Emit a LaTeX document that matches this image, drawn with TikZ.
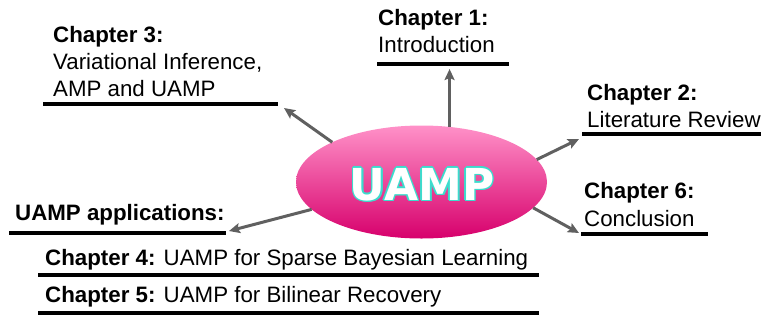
\documentclass[tikz,border=0pt]{standalone}
\usepackage{fontspec}
\setmainfont{Liberation Sans}
\newfontfamily\hubfont{DejaVu Sans}
\usetikzlibrary{shapes.geometric,arrows.meta}

\definecolor{linkgray}{RGB}{96,96,96}
\definecolor{glow}{RGB}{60,220,205}
\definecolor{hubtop}{RGB}{255,145,200}
\definecolor{hubmid}{RGB}{255,85,170}
\definecolor{hubbot}{RGB}{215,0,108}

% one zero-width, shifted copy of a word in the outline colour
\newcommand\glowcopy[3]{\makebox[0pt][l]{\kern#1\raisebox{#2}{\textcolor{glow}{#3}}}}
% a word with a thin turquoise outline and a small drop shadow
\newcommand\outlined[1]{%
  \glowcopy{1.4pt}{0pt}{#1}\glowcopy{-1.4pt}{0pt}{#1}%
  \glowcopy{0pt}{1.4pt}{#1}\glowcopy{0pt}{-1.4pt}{#1}%
  \glowcopy{1pt}{1pt}{#1}\glowcopy{-1pt}{1pt}{#1}%
  \glowcopy{1pt}{-1pt}{#1}\glowcopy{-1pt}{-1pt}{#1}%
  \glowcopy{1.8pt}{-1.8pt}{#1}%
  \textcolor{white}{#1}}

\tikzset{
  head/.style={font=\fontsize{22.3}{27}\selectfont\bfseries, anchor=base west, inner sep=0},
  body/.style={font=\fontsize{22.3}{27}\selectfont, anchor=base west, inner sep=0},
  rule/.style={line width=4pt, black},
  link/.style={line width=3pt, linkgray, -{Stealth[length=11pt,width=10pt,inset=2pt]}},
  hub/.style={ellipse, minimum width=251pt, minimum height=113pt, inner sep=0, outer sep=0,
    top color=hubtop, middle color=hubmid, bottom color=hubbot},
  hubtext/.style={font=\fontsize{44}{44}\selectfont\hubfont\bfseries, anchor=base, inner sep=0}
}

\begin{document}
\begin{tikzpicture}[x=1pt,y=-1pt]
\useasboundingbox (0,0) rectangle (761,322);

% central ellipse with its title
\node[hub] (hub) at (421.5,182) {};
\node[hubtext] (title) at (422,200) {\outlined{UAMP}};

% Chapter 1
\node[head] (c1a) at (378,25) {Chapter 1:};
\node[body] (c1b) at (378,52) {Introduction};
\coordinate (c1l) at (377,64); \coordinate (c1r) at (509,64);
\draw[rule] (c1l) -- (c1r);
\coordinate (c1tip) at (449,69);

% Chapter 2
\node[head] (c2a) at (587,100) {Chapter 2:};
\node[body] (c2b) at (587,127) {Literature Review};
\coordinate (c2l) at (582,134); \coordinate (c2r) at (761,134);
\draw[rule] (c2l) -- (c2r);
\coordinate (c2tip) at (579,139);

% Chapter 3
\node[head] (c3a) at (53,42) {Chapter 3:};
\node[body] (c3b) at (53,69) {Variational Inference,};
\node[body] (c3c) at (53,96) {AMP and UAMP};
\coordinate (c3l) at (43,104); \coordinate (c3r) at (278,104);
\draw[rule] (c3l) -- (c3r);
\coordinate (c3tip) at (284,108);

% Chapter 6
\node[head] (c6a) at (584,198) {Chapter 6:};
\node[body] (c6b) at (584,226) {Conclusion};
\coordinate (c6l) at (581,234); \coordinate (c6r) at (708,234);
\draw[rule] (c6l) -- (c6r);
\coordinate (c6tip) at (579,233);

% applications
\node[head] (apps) at (15,220) {UAMP applications:};
\coordinate (appl) at (9,233); \coordinate (appr) at (226,233);
\draw[rule] (appl) -- (appr);
\coordinate (apptip) at (229,231);

\node[body] (c4) at (45,265) {\textbf{Chapter 4:} UAMP for Sparse Bayesian Learning};
\coordinate (c4l) at (38,275); \coordinate (c4r) at (539,275);
\draw[rule] (c4l) -- (c4r);

\node[body] (c5) at (45,302) {\textbf{Chapter 5:} UAMP for Bilinear Recovery};
\coordinate (c5l) at (38,313); \coordinate (c5r) at (539,313);
\draw[rule] (c5l) -- (c5r);

% connectors from the hub
\draw[link] (hub.63) -- (hub.63 |- c1tip);
\draw[link] (hub.11) -- (c2tip);
\draw[link] (hub.156) -- (c3tip);
\draw[link] (hub.-13) -- (c6tip);
\draw[link] (hub.194) -- (apptip);
\end{tikzpicture}
\end{document}
